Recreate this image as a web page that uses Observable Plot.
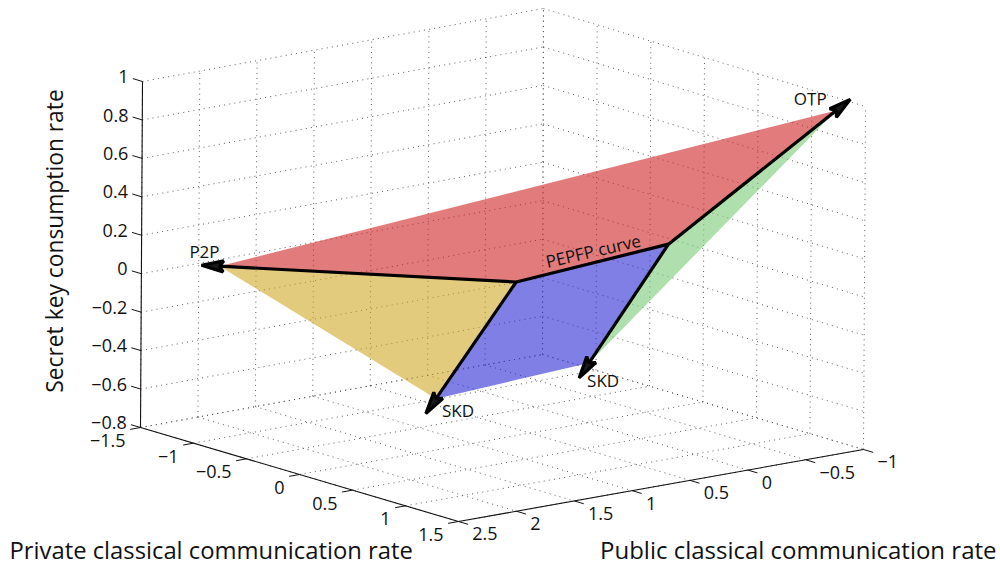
<!DOCTYPE html>
<html>
<head>
<meta charset="utf-8">
<script src="https://cdn.jsdelivr.net/npm/d3@7"></script>
<script src="https://cdn.jsdelivr.net/npm/@observablehq/plot@0.6"></script>
<style>html,body{margin:0;padding:0;background:#fff}svg{display:block}</style>
</head>
<body>
<div id="chart"></div>
<script>
// ---- data (private rate, public rate, secret key rate) ----
const privateTicks = [-1.5, -1, -0.5, 0, 0.5, 1, 1.5];
const publicTicks = [2.5, 2, 1.5, 1, 0.5, 0, -0.5, -1];
const keyTicks = [-0.8, -0.6, -0.4, -0.2, 0, 0.2, 0.4, 0.6, 0.8, 1];

const vertexNames = ["P2P", "A", "B", "OTP", "SKD1", "SKD2"];
const vertexPrivate = [-1.37, -0.01, 0.53, 1.11, 0.12, 0.71];
const vertexPublic = [1.94, 0.62, -0.2, -1.11, 1.43, 0.65];
const vertexKey = [0, 0, 0.2, 0.9, -0.5, -0.3];

const faceRed = ["P2P", "OTP", "B", "A"];
const faceYellow = ["P2P", "A", "SKD1"];
const faceBlue = ["A", "B", "SKD2", "SKD1"];
const faceGreen = ["B", "OTP", "SKD2"];
const arrows = [["A", "P2P"], ["B", "OTP"], ["A", "SKD1"], ["B", "SKD2"]];
const curve = [["A", "B"]];

// ---- projection of the box (axes limits and where its corners fall) ----
const lim = {p: [-1.5, 1.5], q: [2.5, -1], z: [-0.8, 1]};
const box = {
  floor: [[140, 427], [458, 521], [863, 449], [542, 354]],
  top: [[142, 81], [462, 177], [865, 106], [543, 8]]
};
function project(p, q, z) {
  const u = (p - lim.p[0]) / (lim.p[1] - lim.p[0]);
  const v = (q - lim.q[0]) / (lim.q[1] - lim.q[0]);
  const w = (z - lim.z[0]) / (lim.z[1] - lim.z[0]);
  const bi = (c, i) => (1 - u) * (1 - v) * c[0][i] + u * (1 - v) * c[1][i] + u * v * c[2][i] + (1 - u) * v * c[3][i];
  return [0, 1].map((i) => (1 - w) * bi(box.floor, i) + w * bi(box.top, i));
}
const px = (d) => project(d[0], d[1], d[2])[0];
const py = (d) => project(d[0], d[1], d[2])[1];

const vtx = new Map(vertexNames.map((n, i) => [n, [vertexPrivate[i], vertexPublic[i], vertexKey[i]]]));
const face = (names) => names.map((n) => vtx.get(n));
const segs = (pairs) => pairs.map(([a, b]) => ({a: vtx.get(a), b: vtx.get(b)}));

// ---- grid on the three back faces ----
const [pMin, pMax] = lim.p, [qNear, qFar] = lim.q, [zMin, zMax] = lim.z;
const grid = [];
for (const p of privateTicks) {
  grid.push({a: [p, qNear, zMin], b: [p, qFar, zMin]});
  grid.push({a: [p, qFar, zMin], b: [p, qFar, zMax]});
}
for (const q of publicTicks) {
  grid.push({a: [pMin, q, zMin], b: [pMax, q, zMin]});
  grid.push({a: [pMin, q, zMin], b: [pMin, q, zMax]});
}
for (const z of keyTicks) {
  grid.push({a: [pMin, qNear, z], b: [pMin, qFar, z]});
  grid.push({a: [pMin, qFar, z], b: [pMax, qFar, z]});
}

// ---- axes ----
const axisLines = [
  {a: [pMin, qNear, zMin], b: [pMin, qNear, zMax]},
  {a: [pMin, qNear, zMin], b: [pMax, qNear, zMin]},
  {a: [pMax, qNear, zMin], b: [pMax, qFar, zMin]}
];
const ticks = [
  ...keyTicks.map((z) => ({a: [pMin, qNear, z], b: [pMin - 0.09, qNear, z]})),
  ...privateTicks.map((p) => ({a: [p, qNear, zMin], b: [p, qNear + 0.09, zMin]})),
  ...publicTicks.map((q) => ({a: [pMax, q, zMin], b: [pMax + 0.09, q, zMin]}))
];
const fmt = (v) => String(v).replace("-", "\u2212");

function barb(color, context) {
  const ns = "http://www.w3.org/2000/svg";
  const m = context.document.createElementNS(ns, "marker");
  m.setAttribute("viewBox", "-8 -9 30 18");
  m.setAttribute("markerWidth", 30);
  m.setAttribute("markerHeight", 18);
  m.setAttribute("markerUnits", "userSpaceOnUse");
  m.setAttribute("orient", "auto");
  m.setAttribute("refX", 0);
  m.setAttribute("refY", 0);
  const path = context.document.createElementNS(ns, "path");
  path.setAttribute("d", "M18,0 L-4,-5.5 L0,0 L-4,5.5 Z");
  path.setAttribute("fill", "#1a1a1a");
  m.appendChild(path);
  return m;
}

const FONT = "'Open Sans', 'Noto Sans', sans-serif";
const link = (data, o) => Plot.link(data, {
  x1: (d) => px(d.a), y1: (d) => py(d.a), x2: (d) => px(d.b), y2: (d) => py(d.b), ...o
});
const poly = (names, fill) => Plot.line(face(names), {x: px, y: py, fill, fillOpacity: 0.6, stroke: "none"});
const tickText = (data, o) => Plot.text(data, {x: px, y: py, fontSize: 18, fontFamily: FONT, fill: "#111", ...o});
const endLabel = (label, name, dx, dy) => Plot.text([vtx.get(name)], {x: px, y: py, text: () => label, fontSize: 17, fontFamily: FONT, fill: "#111", dx, dy});
const title = (label, o) => Plot.text([label], {text: (d) => d, fontFamily: FONT, fill: "#111", ...o});

const chart = Plot.plot({
  width: 1000,
  height: 563,
  margin: 0,
  x: {domain: [0, 1000], range: [0, 1000], axis: null},
  y: {domain: [0, 563], range: [0, 563], axis: null},
  style: {background: "#fff", fontFamily: FONT},
  marks: [
    link(grid, {stroke: "#555", strokeWidth: 0.95, strokeDasharray: "1 4.2"}),
    poly(faceGreen, "#7aca75"),
    poly(faceBlue, "#2a2ad4"),
    poly(faceYellow, "#d0a828"),
    poly(faceRed, "#cf2525"),
    link(axisLines, {stroke: "#111", strokeWidth: 1.1}),
    link(ticks, {stroke: "#111", strokeWidth: 1}),
    link(segs(curve), {stroke: "#000", strokeWidth: 3.2}),
    link(segs(arrows), {stroke: "#000", strokeWidth: 3.2, markerEnd: barb}),
    tickText(keyTicks.map((z) => [pMin - 0.13, qNear, z]), {text: (d) => fmt(d[2]), textAnchor: "end"}),
    tickText(privateTicks.map((p) => [p, qNear + 0.13, zMin]), {text: (d) => fmt(d[0]), textAnchor: "end", dy: 11}),
    tickText(publicTicks.map((q) => [pMax + 0.13, q, zMin]), {text: (d) => fmt(d[1]), textAnchor: "start", dy: 9}),
    endLabel("P2P", "P2P", -15, -14),
    endLabel("OTP", "OTP", -26, -11),
    endLabel("SKD", "SKD1", 22, 13),
    endLabel("SKD", "SKD2", 14, 19),
    Plot.text(["PEPFP curve"], {
      x: [px([0.26, 0.2, 0.1])], y: [py([0.26, 0.2, 0.1])], text: (d) => d,
      rotate: -13, fontSize: 17, fontFamily: FONT, fill: "#111", dy: -11
    }),
    title("Private classical communication rate", {frameAnchor: "bottom-left", dx: 9, dy: -5, fontSize: 23.8, textAnchor: "start"}),
    title("Public classical communication rate", {frameAnchor: "bottom-right", dx: -4, dy: -5, fontSize: 24, textAnchor: "end"}),
    title("Secret key consumption rate", {frameAnchor: "left", dx: 55, dy: -41, rotate: -90, fontSize: 22.8, textAnchor: "middle"})
  ]
});
document.getElementById("chart").appendChild(chart);
</script>
</body>
</html>
